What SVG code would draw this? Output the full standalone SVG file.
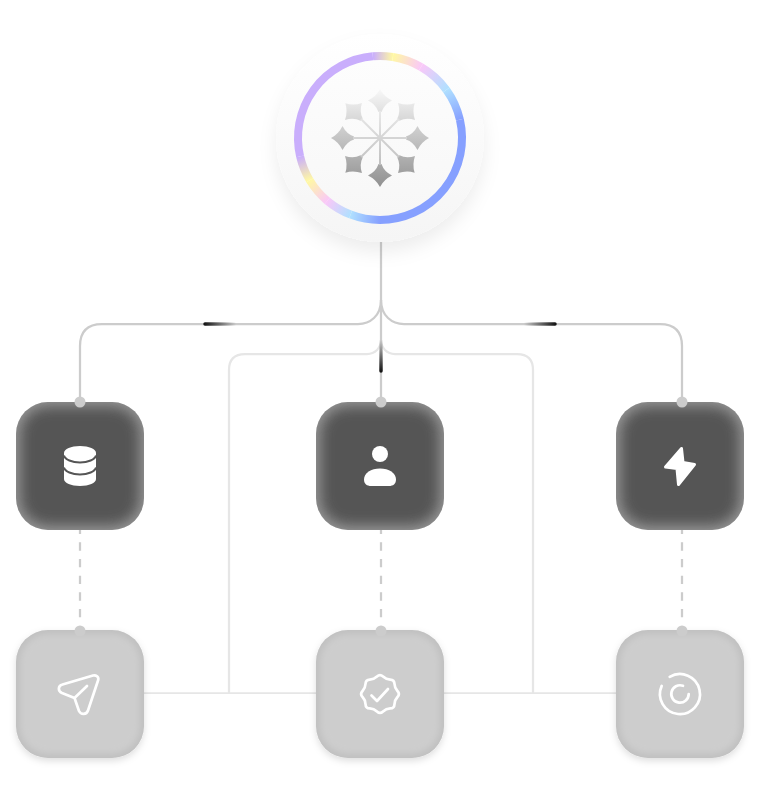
<svg xmlns="http://www.w3.org/2000/svg" width="760" height="790" viewBox="0 0 760 790">
<style>
.main{fill:none;stroke:#cccccc;stroke-width:2.25}
.soft{fill:none;stroke:#e6e6e6;stroke-width:2.25}
.dash{fill:none;stroke:#cccccc;stroke-width:2.25;stroke-dasharray:8.33 8.33}
.dot{fill:#cccccc}
.pulse{fill:none;stroke-width:3.5;stroke-linecap:round}
.ring{fill:none;stroke-width:8}
.ico{fill:#ffffff}
.line{fill:none;stroke:#ffffff;stroke-width:2.7;stroke-linecap:round;stroke-linejoin:round}
</style>
<defs>
<filter id="heroShadow" x="-30%" y="-30%" width="160%" height="160%"><feDropShadow dx="0" dy="10" stdDeviation="9" flood-color="#000000" flood-opacity="0.07"/></filter>
<filter id="tileShadow" x="-20%" y="-20%" width="140%" height="140%"><feDropShadow dx="0" dy="3" stdDeviation="3.5" flood-color="#000000" flood-opacity="0.13"/></filter>
<filter id="soften" x="-20%" y="-20%" width="140%" height="140%"><feGaussianBlur stdDeviation="7"/></filter>
<filter id="softenLight" x="-20%" y="-20%" width="140%" height="140%"><feGaussianBlur stdDeviation="3"/></filter>
<clipPath id="tileClip"><rect width="128" height="128" rx="32"/></clipPath>
<linearGradient id="discOuter" x1="0" y1="0" x2="0" y2="1"><stop offset="0" stop-color="#ffffff"/><stop offset="1" stop-color="#f5f5f5"/></linearGradient>
<linearGradient id="discInner" x1="0" y1="0" x2="0" y2="1"><stop offset="0" stop-color="#fdfdfd"/><stop offset="1" stop-color="#f7f7f7"/></linearGradient>
<linearGradient id="flakeFill" gradientUnits="userSpaceOnUse" x1="0" y1="90" x2="0" y2="188"><stop offset="0" stop-color="#f7f7f7"/><stop offset="1" stop-color="#8f8f8f"/></linearGradient>
<linearGradient id="r1" gradientUnits="userSpaceOnUse" x1="372.85" y1="56.31" x2="392.83" y2="57.01"><stop offset="0" stop-color="#c9aefc"/><stop offset="1" stop-color="#fff8a4"/></linearGradient>
<linearGradient id="r2" gradientUnits="userSpaceOnUse" x1="392.83" y1="57.01" x2="421" y2="66.99"><stop offset="0" stop-color="#fff8a4"/><stop offset="1" stop-color="#f9c8f8"/></linearGradient>
<linearGradient id="r3" gradientUnits="userSpaceOnUse" x1="421" y1="66.99" x2="446.34" y2="89.8"><stop offset="0" stop-color="#f9c8f8"/><stop offset="1" stop-color="#b0e0ff"/></linearGradient>
<linearGradient id="r4" gradientUnits="userSpaceOnUse" x1="446.34" y1="89.8" x2="459.9" y2="119.55"><stop offset="0" stop-color="#b0e0ff"/><stop offset="1" stop-color="#86a0ff"/></linearGradient>
<linearGradient id="r5" gradientUnits="userSpaceOnUse" x1="380" y1="220" x2="350.61" y2="214.55"><stop offset="0" stop-color="#86a0ff"/><stop offset="1" stop-color="#b0e0ff"/></linearGradient>
<linearGradient id="r6" gradientUnits="userSpaceOnUse" x1="350.61" y1="214.55" x2="327.29" y2="200.82"><stop offset="0" stop-color="#b0e0ff"/><stop offset="1" stop-color="#f9c8f8"/></linearGradient>
<linearGradient id="r7" gradientUnits="userSpaceOnUse" x1="327.29" y1="200.82" x2="309.71" y2="180.23"><stop offset="0" stop-color="#f9c8f8"/><stop offset="1" stop-color="#fff8a4"/></linearGradient>
<linearGradient id="r8" gradientUnits="userSpaceOnUse" x1="309.71" y1="180.23" x2="300.1" y2="156.45"><stop offset="0" stop-color="#fff8a4"/><stop offset="1" stop-color="#c9aefc"/></linearGradient>
<linearGradient id="pulseL" gradientUnits="userSpaceOnUse" x1="204" y1="0" x2="236" y2="0"><stop offset="0" stop-color="#111111"/><stop offset="1" stop-color="#111111" stop-opacity="0"/></linearGradient>
<linearGradient id="pulseR" gradientUnits="userSpaceOnUse" x1="556" y1="0" x2="524" y2="0"><stop offset="0" stop-color="#111111"/><stop offset="1" stop-color="#111111" stop-opacity="0"/></linearGradient>
<linearGradient id="pulseM" gradientUnits="userSpaceOnUse" x1="0" y1="372" x2="0" y2="340"><stop offset="0" stop-color="#111111"/><stop offset="1" stop-color="#111111" stop-opacity="0"/></linearGradient>
<path id="petal" d="M0 -49Q3.8 -41.5 12 -37.5Q4 -33.5 1.5 -26L-1.5 -26Q-4 -33.5 -12 -37.5Q-3.8 -41.5 0 -49Z"/>
<mask id="flakeMask" maskUnits="userSpaceOnUse" x="320" y="80" width="120" height="120">
<g transform="translate(380 138)" fill="#ffffff">
<use href="#petal"/><use href="#petal" transform="rotate(45)"/><use href="#petal" transform="rotate(90)"/><use href="#petal" transform="rotate(135)"/><use href="#petal" transform="rotate(180)"/><use href="#petal" transform="rotate(225)"/><use href="#petal" transform="rotate(270)"/><use href="#petal" transform="rotate(315)"/>
<path d="M0 -27V27M-27 0H27M-19 -19L19 19M-19 19L19 -19" stroke="#b4b4b4" stroke-width="2" fill="none"/>
</g>
</mask>
<g id="darkTile">
<rect width="128" height="128" rx="32" fill="#9a9a9a"/>
<g clip-path="url(#tileClip)"><rect x="4" y="4" width="120" height="120" rx="28" fill="#555555" filter="url(#soften)"/></g>
</g>
<g id="lightTile">
<rect width="128" height="128" rx="32" fill="#c0c0c0" filter="url(#tileShadow)"/>
<g clip-path="url(#tileClip)"><rect x="4" y="4" width="120" height="120" rx="28" fill="#cdcdcd" filter="url(#softenLight)"/></g>
</g>
</defs>

<g id="connectors">
<path class="soft" d="M381 340C381 348 375 354 367 354H245Q229 354 229 370V693"/>
<path class="soft" d="M381 340C381 348 387 354 395 354H517Q533 354 533 370V693"/>
<path class="soft" style="stroke-width:1.75" d="M144 693H316M444 693H616"/>
<path class="main" d="M381 242V402"/>
<path class="main" d="M381 300C381 316 370 324 358 324H102Q80 324 80 346V402"/>
<path class="main" d="M381 300C381 316 392 324 404 324H660Q682 324 682 346V402"/>
<path class="dash" d="M80 525.67V618"/>
<path class="dash" d="M381 525.67V618"/>
<path class="dash" d="M682 525.67V618"/>
<path class="pulse" stroke="url(#pulseL)" d="M205 324H236"/>
<path class="pulse" stroke="url(#pulseR)" d="M555 324H524"/>
<path class="pulse" stroke="url(#pulseM)" d="M381 371V340"/>
</g>

<g id="hub">
<circle cx="380" cy="138" r="104" fill="url(#discOuter)" filter="url(#heroShadow)"/>
<circle cx="380" cy="138" r="78" fill="url(#discInner)"/>
<path class="ring" stroke="#c9aefc" d="M300.1 156.45A82 82 0 0 1 372.85 56.31"/>
<path class="ring" stroke="url(#r1)" d="M372.85 56.31A82 82 0 0 1 392.83 57.01"/>
<path class="ring" stroke="url(#r2)" d="M392.83 57.01A82 82 0 0 1 421 66.99"/>
<path class="ring" stroke="url(#r3)" d="M421 66.99A82 82 0 0 1 446.34 89.8"/>
<path class="ring" stroke="url(#r4)" d="M446.34 89.8A82 82 0 0 1 459.9 119.55"/>
<path class="ring" stroke="#86a0ff" d="M459.9 119.55A82 82 0 0 1 380 220"/>
<path class="ring" stroke="url(#r5)" d="M380 220A82 82 0 0 1 350.61 214.55"/>
<path class="ring" stroke="url(#r6)" d="M350.61 214.55A82 82 0 0 1 327.29 200.82"/>
<path class="ring" stroke="url(#r7)" d="M327.29 200.82A82 82 0 0 1 309.71 180.23"/>
<path class="ring" stroke="url(#r8)" d="M309.71 180.23A82 82 0 0 1 300.1 156.45"/>
<rect x="320" y="80" width="120" height="120" fill="url(#flakeFill)" mask="url(#flakeMask)"/>
</g>

<g id="node-database">
<use href="#darkTile" x="16" y="402"/>
<path class="ico" d="M64 453C64 449 71 446 80 446C89 446 96 449 96 453V479C96 483 89 486 80 486C71 486 64 483 64 479Z"/>
<path d="M64 455.5C65 459.5 72 462.5 80 462.5C88 462.5 95 459.5 96 455.5M64 467.5C65 471.5 72 474.5 80 474.5C88 474.5 95 471.5 96 467.5" fill="none" stroke="#555555" stroke-width="2"/>
</g>
<g id="node-person">
<use href="#darkTile" x="316" y="402"/>
<circle class="ico" cx="380" cy="454" r="8"/>
<path class="ico" d="M364 479.5C364 473 371 468.5 380 468.5C389 468.5 396 473 396 479.5C396 484 393 486 389 486H371C367 486 364 484 364 479.5Z"/>
</g>
<g id="node-bolt">
<use href="#darkTile" x="616" y="402"/>
<path d="M681.5 448.5L665.5 467L677 468.5L678.5 484.5L694.5 464.5L683 462.5Z" fill="#ffffff" stroke="#ffffff" stroke-width="3" stroke-linejoin="round"/>
</g>
<g id="node-send">
<use href="#lightTile" x="16" y="630"/>
<path class="line" d="M93 675.5C96 674.7 99 677 98.2 680L88 710.5C86.5 715 81 715 79 711L74.5 698L62 693C57.5 691 58 685.5 62.5 684.5ZM74.5 698L87 686"/>
</g>
<g id="node-badge">
<use href="#lightTile" x="316" y="630"/>
<path class="line" transform="translate(380 694)" d="M3.02 -17.45Q6.05 -14.6 10.2 -14.47Q14.35 -14.35 14.47 -10.2Q14.6 -6.05 17.45 -3.02Q20.3 0 17.45 3.02Q14.6 6.05 14.47 10.2Q14.35 14.35 10.2 14.47Q6.05 14.6 3.02 17.45Q0 20.3 -3.02 17.45Q-6.05 14.6 -10.2 14.47Q-14.35 14.35 -14.47 10.2Q-14.6 6.05 -17.45 3.02Q-20.3 0 -17.45 -3.02Q-14.6 -6.05 -14.47 -10.2Q-14.35 -14.35 -10.2 -14.47Q-6.05 -14.6 -3.02 -17.45Q0 -20.3 3.02 -17.45Z"/>
<path class="line" d="M371.5 695.5L377 701L388 689"/>
</g>
<g id="node-spiral">
<use href="#lightTile" x="616" y="630"/>
<path class="line" d="M669.7 676.9A20 20 0 1 1 661.7 685.9"/>
<path class="line" d="M683 685.8A8.7 8.7 0 1 0 688.7 694"/>
</g>

<g id="connector-dots">
<circle class="dot" cx="80" cy="402" r="5.5"/>
<circle class="dot" cx="381" cy="402" r="5.5"/>
<circle class="dot" cx="682" cy="402" r="5.5"/>
<circle class="dot" cx="80" cy="631" r="5.5"/>
<circle class="dot" cx="381" cy="631" r="5.5"/>
<circle class="dot" cx="682" cy="631" r="5.5"/>
</g>
</svg>
